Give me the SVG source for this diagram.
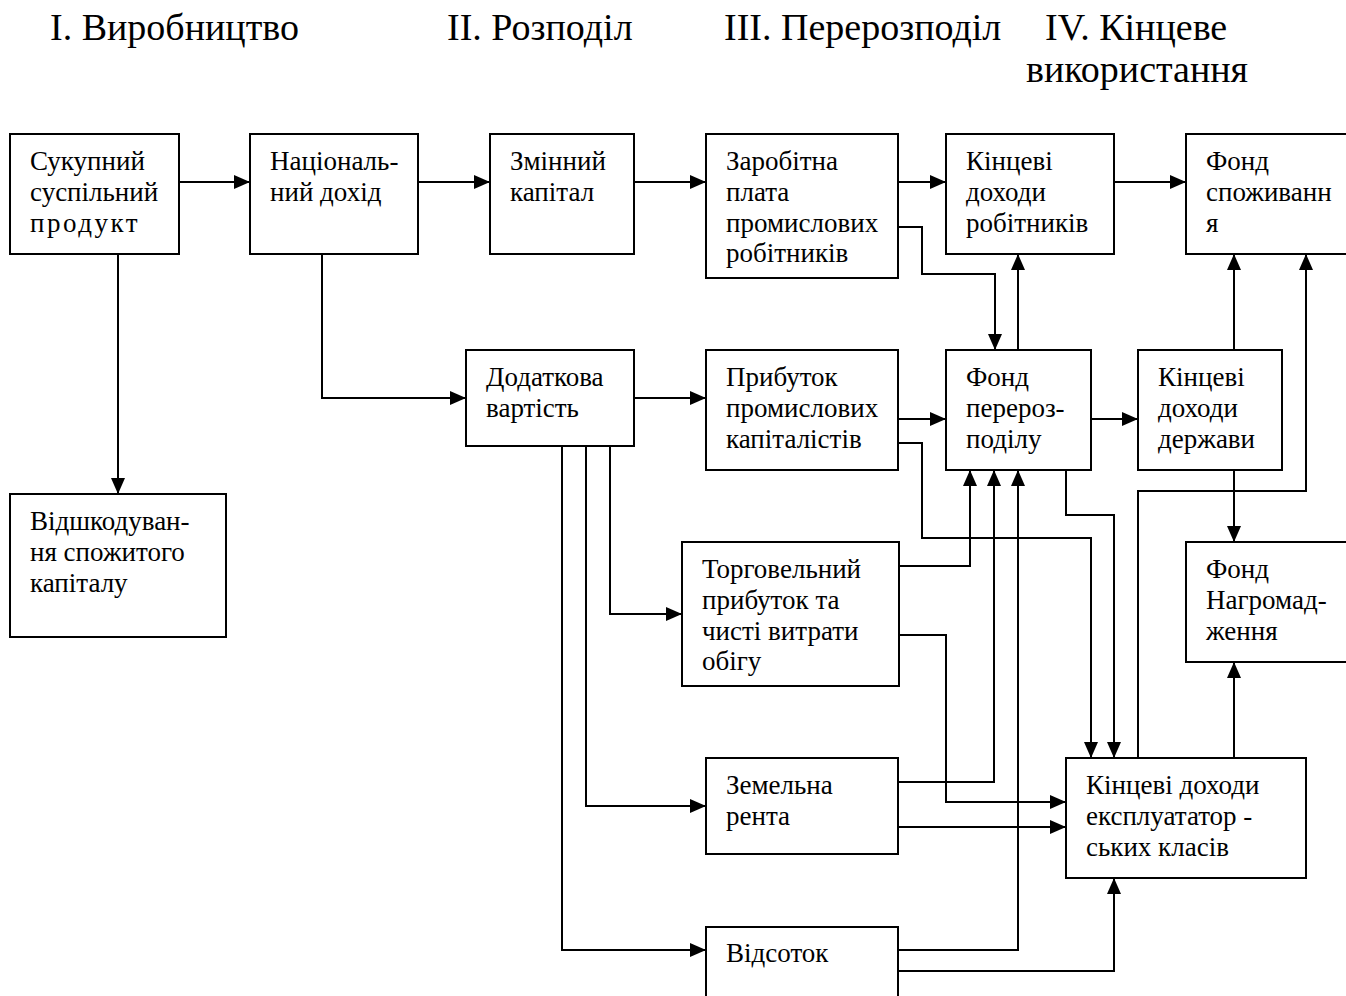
<svg xmlns="http://www.w3.org/2000/svg" width="1346" height="996" viewBox="0 0 1346 996">
<defs>
<marker id="ah" markerUnits="userSpaceOnUse" markerWidth="16" markerHeight="14" refX="16" refY="7" orient="auto">
<path d="M0,0 L16,7 L0,14 z" fill="#000"/>
</marker>
<style>
rect.b{fill:#fff;stroke:#000;stroke-width:2}
text{font-family:"Liberation Serif","Times New Roman",serif;fill:#000}
.t{font-size:27px}
.h{font-size:38px}
#conn path{fill:none;stroke:#000;stroke-width:2;marker-end:url(#ah)}
</style>
</defs>
<rect width="1346" height="996" fill="#fff"/>
<g id="headers">
<text class="h" x="50" y="40">I. Виробництво</text>
<text class="h" x="447" y="40">II. Розподіл</text>
<text class="h" x="724" y="40">III. Перерозподіл</text>
<text class="h" x="1045" y="40">IV. Кінцеве</text>
<text class="h" x="1026" y="82">використання</text>
</g>
<g id="conn">
<path d="M179,182 H250"/>
<path d="M418,182 H490"/>
<path d="M634,182 H706"/>
<path d="M898,182 H946"/>
<path d="M1114,182 H1186"/>
<path d="M118,254 V494"/>
<path d="M322,254 V398 H466"/>
<path d="M634,398 H706"/>
<path d="M898,227 H922 V274 H995 V350"/>
<path d="M1018,350 V254"/>
<path d="M898,419 H946"/>
<path d="M1091,419 H1138"/>
<path d="M898,443 H922 V538 H1091 V758"/>
<path d="M1066,470 V515 H1114 V758"/>
<path d="M1234,350 V254"/>
<path d="M1138,758 V491 H1306 V254"/>
<path d="M1234,470 V542"/>
<path d="M1234,758 V662"/>
<path d="M610,446 V614 H682"/>
<path d="M586,446 V806 H706"/>
<path d="M562,446 V950 H706"/>
<path d="M898,566 H970 V470"/>
<path d="M898,635 H946 V802 H1066"/>
<path d="M898,782 H994 V470"/>
<path d="M898,827 H1066"/>
<path d="M898,950 H1018 V470"/>
<path d="M898,971 H1114 V878"/>
</g>
<g id="n1"><rect class="b" x="10" y="134" width="169" height="120"/>
<text class="t" x="30" y="170">Сукупний</text><text class="t" x="30" y="201">суспільний</text><text class="t" x="30" y="232" letter-spacing="2.5">продукт</text></g>
<g id="n2"><rect class="b" x="250" y="134" width="168" height="120"/>
<text class="t" x="270" y="170">Національ-</text><text class="t" x="270" y="201">ний дохід</text></g>
<g id="n3"><rect class="b" x="490" y="134" width="144" height="120"/>
<text class="t" x="510" y="170">Змінний</text><text class="t" x="510" y="201">капітал</text></g>
<g id="n4"><rect class="b" x="706" y="134" width="192" height="144"/>
<text class="t" x="726" y="170">Заробітна</text><text class="t" x="726" y="201">плата</text><text class="t" x="726" y="232">промислових</text><text class="t" x="726" y="262">робітників</text></g>
<g id="n5"><rect class="b" x="946" y="134" width="168" height="120"/>
<text class="t" x="966" y="170">Кінцеві</text><text class="t" x="966" y="201">доходи</text><text class="t" x="966" y="232">робітників</text></g>
<g id="n6"><rect class="b" x="1186" y="134" width="180" height="120"/>
<text class="t" x="1206" y="170">Фонд</text><text class="t" x="1206" y="201">споживанн</text><text class="t" x="1206" y="232">я</text></g>
<g id="n7"><rect class="b" x="10" y="494" width="216" height="143"/>
<text class="t" x="30" y="530">Відшкодуван-</text><text class="t" x="30" y="561">ня спожитого</text><text class="t" x="30" y="592">капіталу</text></g>
<g id="n8"><rect class="b" x="466" y="350" width="168" height="96"/>
<text class="t" x="486" y="386">Додаткова</text><text class="t" x="486" y="417">вартість</text></g>
<g id="n9"><rect class="b" x="706" y="350" width="192" height="120"/>
<text class="t" x="726" y="386">Прибуток</text><text class="t" x="726" y="417">промислових</text><text class="t" x="726" y="448">капіталістів</text></g>
<g id="n10"><rect class="b" x="946" y="350" width="145" height="120"/>
<text class="t" x="966" y="386">Фонд</text><text class="t" x="966" y="417">перероз-</text><text class="t" x="966" y="448">поділу</text></g>
<g id="n11"><rect class="b" x="1138" y="350" width="144" height="120"/>
<text class="t" x="1158" y="386">Кінцеві</text><text class="t" x="1158" y="417">доходи</text><text class="t" x="1158" y="448">держави</text></g>
<g id="n12"><rect class="b" x="682" y="542" width="217" height="144"/>
<text class="t" x="702" y="578">Торговельний</text><text class="t" x="702" y="609">прибуток та</text><text class="t" x="702" y="640">чисті витрати</text><text class="t" x="702" y="670">обігу</text></g>
<g id="n13"><rect class="b" x="1186" y="542" width="180" height="120"/>
<text class="t" x="1206" y="578">Фонд</text><text class="t" x="1206" y="609">Нагромад-</text><text class="t" x="1206" y="640">ження</text></g>
<g id="n14"><rect class="b" x="706" y="758" width="192" height="96"/>
<text class="t" x="726" y="794">Земельна</text><text class="t" x="726" y="825">рента</text></g>
<g id="n15"><rect class="b" x="1066" y="758" width="240" height="120"/>
<text class="t" x="1086" y="794">Кінцеві доходи</text><text class="t" x="1086" y="825">експлуататор -</text><text class="t" x="1086" y="856">ських класів</text></g>
<g id="n16"><rect class="b" x="706" y="927" width="192" height="90"/>
<text class="t" x="726" y="962">Відсоток</text></g>
</svg>
